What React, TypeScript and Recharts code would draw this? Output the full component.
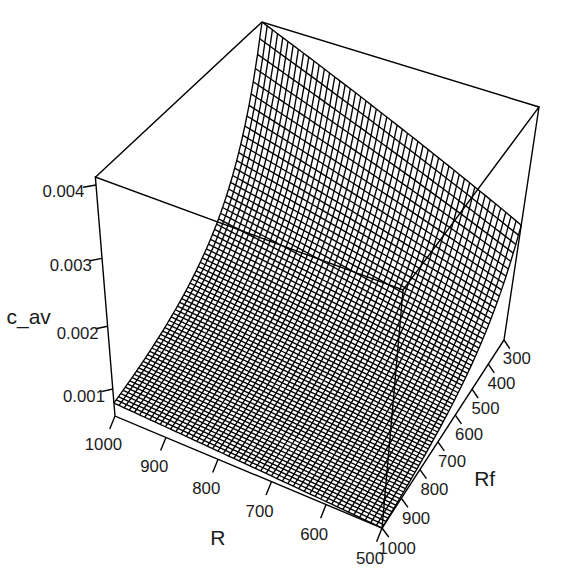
import { ScatterChart, Scatter, XAxis, YAxis } from "recharts"

const rFine = [500, 510, 520, 530, 540, 550, 560, 570, 580, 590, 600, 610, 620, 630, 640, 650, 660, 670, 680, 690, 700, 710, 720, 730, 740, 750, 760, 770, 780, 790, 800, 810, 820, 830, 840, 850, 860, 870, 880, 890, 900, 910, 920, 930, 940, 950, 960, 970, 980, 990, 1000]
const rCoarse = [500, 600, 700, 800, 900, 1000]
const rfMain = [300, 320, 340, 360, 380, 400, 420, 440, 460, 480, 500, 520, 540, 560, 580, 600, 620, 640, 660, 680, 700, 720, 740, 760, 780, 800, 820, 840, 860, 880, 900, 920, 940, 960, 980, 1000]
const rfBetween = [310, 330, 350, 370, 390, 410, 430, 450, 470, 490, 510, 530, 550, 570, 590, 610, 630, 650, 670, 690, 710, 730, 750, 770, 790, 810, 830, 850, 870, 890, 910, 930, 950, 970, 990]

// c_av x 1e6, hand estimates fitted by eye to the edges and ticks of the picture
// one row per rfMain value, one column per rFine value
const cAvMain = [
  [2413,2450,2487,2524,2560,2596,2632,2668,2704,2740,2775,2810,2845,2880,2915,2949,2984,3018,3053,3088,3122,3156,3190,3224,3257,3291,3324,3358,3391,3425,3458,3491,3524,3557,3589,3622,3654,3687,3719,3752,3784,3816,3848,3880,3912,3944,3975,4007,4039,4071,4102],
  [2190,2223,2256,2289,2321,2353,2385,2418,2450,2483,2515,2546,2578,2609,2640,2671,2702,2734,2765,2796,2827,2857,2888,2918,2948,2978,3008,3038,3068,3098,3128,3157,3186,3216,3245,3274,3303,3332,3362,3391,3420,3448,3477,3505,3533,3562,3590,3619,3647,3676,3704],
  [2001,2031,2060,2090,2119,2148,2177,2207,2236,2266,2295,2323,2351,2380,2408,2436,2464,2493,2521,2549,2577,2604,2632,2659,2686,2713,2740,2768,2795,2822,2849,2875,2902,2928,2954,2981,3007,3033,3059,3086,3112,3138,3163,3189,3214,3240,3266,3291,3317,3342,3368],
  [1841,1868,1895,1921,1948,1975,2001,2028,2055,2081,2108,2134,2159,2185,2210,2236,2262,2287,2313,2338,2364,2389,2413,2438,2463,2488,2512,2537,2562,2586,2611,2635,2659,2683,2707,2731,2754,2778,2802,2826,2850,2873,2896,2920,2943,2966,2989,3012,3036,3059,3082],
  [1702,1727,1751,1776,1800,1825,1849,1874,1898,1923,1947,1970,1994,2017,2041,2064,2087,2111,2134,2158,2181,2204,2226,2249,2271,2294,2316,2339,2361,2384,2406,2428,2450,2471,2493,2515,2537,2559,2580,2602,2624,2645,2666,2688,2709,2730,2751,2772,2794,2815,2836],
  [1583,1606,1628,1651,1673,1696,1718,1741,1763,1786,1808,1830,1851,1873,1894,1916,1937,1959,1980,2002,2023,2044,2064,2085,2105,2126,2147,2167,2188,2208,2229,2249,2269,2289,2309,2329,2349,2369,2389,2409,2429,2448,2468,2487,2507,2526,2545,2565,2584,2604,2623],
  [1478,1499,1520,1540,1561,1582,1603,1624,1644,1665,1686,1706,1726,1745,1765,1785,1805,1825,1844,1864,1884,1903,1922,1941,1960,1980,1999,2018,2037,2056,2075,2093,2112,2130,2148,2167,2185,2203,2221,2240,2258,2276,2294,2312,2329,2347,2365,2383,2401,2419,2437],
  [1386,1405,1425,1444,1463,1483,1502,1521,1540,1560,1579,1597,1616,1634,1652,1671,1689,1707,1725,1744,1762,1780,1797,1815,1832,1850,1868,1885,1903,1920,1938,1955,1972,1989,2006,2023,2040,2057,2074,2091,2108,2125,2141,2158,2174,2191,2207,2224,2240,2257,2273],
  [1305,1323,1341,1359,1377,1395,1412,1430,1448,1466,1484,1501,1518,1535,1552,1569,1586,1603,1620,1637,1654,1670,1687,1703,1720,1736,1752,1769,1785,1802,1818,1834,1849,1865,1881,1897,1912,1928,1944,1959,1975,1990,2006,2021,2036,2052,2067,2082,2097,2113,2128],
  [1232,1249,1265,1282,1299,1316,1332,1349,1366,1382,1399,1415,1431,1447,1463,1479,1494,1510,1526,1542,1558,1573,1588,1604,1619,1634,1649,1664,1680,1695,1710,1725,1739,1754,1769,1784,1798,1813,1828,1842,1857,1871,1885,1900,1914,1928,1942,1956,1971,1985,1999],
  [1167,1183,1198,1214,1230,1246,1261,1277,1293,1308,1324,1339,1354,1369,1384,1399,1413,1428,1443,1458,1473,1487,1501,1516,1530,1544,1558,1572,1587,1601,1615,1629,1642,1656,1670,1684,1697,1711,1725,1738,1752,1765,1778,1792,1805,1818,1831,1844,1858,1871,1884],
  [1108,1123,1137,1152,1167,1182,1196,1211,1226,1240,1255,1269,1283,1297,1311,1325,1339,1353,1367,1381,1395,1408,1422,1435,1448,1462,1475,1488,1501,1515,1528,1541,1554,1566,1579,1592,1605,1618,1630,1643,1656,1668,1681,1693,1706,1718,1730,1743,1755,1768,1780],
  [1057,1071,1085,1098,1112,1126,1140,1154,1167,1181,1195,1208,1221,1235,1248,1261,1274,1287,1301,1314,1327,1340,1352,1365,1377,1390,1402,1415,1427,1440,1452,1464,1476,1488,1500,1512,1524,1536,1548,1560,1572,1584,1595,1607,1618,1630,1642,1653,1665,1676,1688],
  [1009,1022,1035,1048,1061,1074,1087,1100,1113,1126,1139,1151,1164,1176,1189,1201,1213,1226,1238,1251,1263,1275,1287,1298,1310,1322,1334,1346,1357,1369,1381,1392,1404,1415,1426,1438,1449,1460,1471,1483,1494,1505,1516,1527,1537,1548,1559,1570,1581,1592,1603],
  [966,978,991,1003,1016,1028,1040,1053,1065,1078,1090,1102,1113,1125,1137,1149,1160,1172,1184,1195,1207,1218,1229,1240,1251,1263,1274,1285,1296,1307,1318,1329,1339,1350,1360,1371,1382,1392,1403,1413,1424,1434,1445,1455,1465,1476,1486,1496,1506,1517,1527],
  [927,939,951,962,974,986,998,1010,1021,1033,1045,1056,1067,1078,1089,1100,1111,1122,1133,1144,1155,1166,1176,1187,1197,1208,1218,1229,1239,1250,1260,1270,1280,1290,1300,1310,1320,1330,1340,1350,1360,1370,1379,1389,1399,1409,1418,1428,1438,1447,1457],
  [891,902,913,924,935,947,958,969,980,991,1002,1012,1023,1033,1044,1054,1064,1075,1085,1096,1106,1116,1126,1136,1146,1156,1166,1176,1186,1196,1206,1216,1225,1235,1244,1254,1263,1273,1282,1292,1301,1310,1319,1328,1337,1347,1356,1365,1374,1383,1392],
  [858,869,879,890,900,911,922,932,943,953,964,974,984,994,1004,1014,1023,1033,1043,1053,1063,1072,1082,1091,1101,1110,1119,1129,1138,1148,1157,1166,1175,1184,1193,1203,1212,1221,1230,1239,1248,1257,1265,1274,1282,1291,1300,1308,1317,1325,1334],
  [828,838,848,858,868,879,889,899,909,919,929,938,948,957,967,976,985,995,1004,1014,1023,1032,1041,1050,1059,1068,1077,1086,1095,1104,1113,1122,1130,1139,1147,1156,1164,1173,1181,1190,1198,1206,1214,1223,1231,1239,1247,1255,1264,1272,1280],
  [800,810,819,829,838,848,858,867,877,886,896,905,914,923,932,941,950,959,968,977,986,995,1003,1012,1020,1029,1037,1046,1054,1063,1071,1079,1087,1095,1103,1112,1120,1128,1136,1144,1152,1160,1168,1175,1183,1191,1199,1207,1214,1222,1230],
  [774,783,792,802,811,820,829,838,848,857,866,875,883,892,900,909,918,926,935,943,952,960,968,976,984,993,1001,1009,1017,1025,1033,1041,1048,1056,1064,1072,1079,1087,1095,1102,1110,1117,1125,1132,1140,1147,1154,1162,1169,1177,1184],
  [751,760,768,777,786,795,803,812,821,829,838,846,854,863,871,879,887,895,904,912,920,928,935,943,951,959,966,974,982,989,997,1004,1012,1019,1027,1034,1041,1049,1056,1064,1071,1078,1085,1092,1099,1106,1113,1120,1127,1134,1141],
  [729,737,746,754,763,771,779,788,796,805,813,821,829,836,844,852,860,868,875,883,891,898,906,913,921,928,935,943,950,958,965,972,979,986,993,1000,1007,1014,1021,1028,1035,1042,1048,1055,1062,1069,1075,1082,1089,1095,1102],
  [709,717,725,733,741,749,757,765,773,781,789,796,804,811,819,826,833,841,848,856,863,870,877,884,891,899,906,913,920,927,934,941,947,954,961,968,974,981,988,994,1001,1007,1014,1020,1027,1033,1039,1046,1052,1059,1065],
  [689,697,704,712,720,728,735,743,751,758,766,773,780,788,795,802,809,816,824,831,838,845,851,858,865,872,878,885,892,898,905,911,918,924,931,937,943,950,956,963,969,975,981,987,993,1000,1006,1012,1018,1024,1030],
  [672,679,687,694,701,709,716,723,730,738,745,752,759,766,773,780,786,793,800,807,814,821,827,834,840,847,853,860,866,873,879,885,891,897,903,910,916,922,928,934,940,946,952,957,963,969,975,981,986,992,998],
  [655,662,669,676,683,691,698,705,712,719,726,733,739,746,752,759,766,772,779,785,792,798,804,811,817,823,829,835,842,848,854,860,866,871,877,883,889,895,900,906,912,918,923,929,934,940,946,951,957,962,968],
  [640,647,654,660,667,674,681,688,694,701,708,714,721,727,733,740,746,752,758,765,771,777,783,789,795,801,807,813,819,825,831,837,842,848,853,859,865,870,876,881,887,892,898,903,908,914,919,924,929,935,940],
  [625,632,638,645,651,658,665,671,678,684,691,697,703,709,715,721,727,733,739,745,751,757,762,768,774,780,785,791,797,802,808,813,819,824,830,835,840,846,851,857,862,867,872,877,882,888,893,898,903,908,913],
  [612,618,625,631,637,644,650,656,662,669,675,681,687,692,698,704,710,716,721,727,733,739,744,750,755,761,766,772,777,783,788,793,798,803,808,814,819,824,829,834,839,844,849,854,859,864,868,873,878,883,888],
  [599,605,611,617,623,630,636,642,648,654,660,666,671,677,682,688,694,699,705,710,716,721,727,732,737,743,748,753,758,764,769,774,779,784,789,794,798,803,808,813,818,823,827,832,837,842,846,851,856,860,865],
  [588,594,600,605,611,617,623,629,634,640,646,651,657,662,668,673,678,684,689,695,700,705,710,715,720,726,731,736,741,746,751,756,760,765,770,775,779,784,789,793,798,803,807,812,816,821,825,830,834,839,843],
  [576,582,587,593,599,605,610,616,622,627,633,638,643,649,654,659,664,669,675,680,685,690,695,699,704,709,714,719,723,728,733,738,742,747,751,756,761,765,770,774,779,783,788,792,796,801,805,809,813,818,822],
  [566,571,577,582,588,593,598,604,609,615,620,625,630,635,640,645,650,655,660,665,670,675,679,684,689,694,698,703,708,712,717,721,726,730,735,739,743,748,752,757,761,765,769,773,777,782,786,790,794,798,802],
  [556,561,567,572,577,583,588,593,598,604,609,614,619,623,628,633,638,643,647,652,657,662,666,671,675,680,684,689,693,698,702,706,710,715,719,723,727,731,736,740,744,748,752,756,760,764,768,772,776,780,784],
  [547,552,557,562,567,573,578,583,588,593,598,603,607,612,616,621,626,630,635,639,644,648,653,657,661,666,670,674,678,683,687,691,695,699,703,708,712,716,720,724,728,732,736,739,743,747,751,755,758,762,766],
]

// the Rf lines in between are almost straight, so six values per line are enough
const cAvBetween = [
  [2297, 2640, 2969, 3287, 3596, 3896],
  [2092, 2401, 2698, 2984, 3261, 3531],
  [1918, 2198, 2467, 2726, 2977, 3221],
  [1769, 2025, 2270, 2505, 2734, 2955],
  [1641, 1875, 2100, 2315, 2524, 2727],
  [1529, 1745, 1952, 2150, 2341, 2527],
  [1431, 1631, 1821, 2005, 2181, 2353],
  [1344, 1530, 1707, 1876, 2040, 2199],
  [1268, 1440, 1605, 1763, 1915, 2062],
  [1199, 1361, 1514, 1661, 1803, 1940],
  [1137, 1289, 1433, 1571, 1703, 1831],
  [1082, 1224, 1360, 1489, 1613, 1733],
  [1033, 1166, 1294, 1416, 1532, 1645],
  [987, 1114, 1234, 1349, 1458, 1564],
  [946, 1067, 1181, 1289, 1391, 1491],
  [909, 1023, 1130, 1233, 1330, 1424],
  [874, 983, 1084, 1181, 1274, 1363],
  [843, 946, 1043, 1135, 1223, 1307],
  [814, 912, 1004, 1092, 1175, 1255],
  [787, 881, 969, 1052, 1131, 1207],
  [762, 852, 936, 1015, 1090, 1162],
  [740, 825, 905, 981, 1053, 1121],
  [719, 801, 877, 949, 1018, 1083],
  [699, 777, 850, 919, 985, 1047],
  [680, 755, 826, 892, 954, 1014],
  [663, 735, 803, 866, 926, 983],
  [647, 717, 781, 842, 899, 954],
  [632, 699, 761, 819, 874, 926],
  [618, 683, 742, 798, 850, 900],
  [605, 667, 724, 778, 828, 876],
  [593, 653, 708, 760, 808, 854],
  [582, 639, 692, 742, 788, 832],
  [571, 626, 677, 725, 770, 812],
  [561, 614, 663, 709, 752, 793],
  [551, 603, 650, 694, 736, 775],
]

const rTicks = [500, 600, 700, 800, 900, 1000]
const rfTicks = [300, 400, 500, 600, 700, 800, 900, 1000]
const zTicks = [1000, 2000, 3000, 4000]

const W = 577
const H = 587
const Z_MIN = 547
const Z_MAX = 4102

// perspective camera of the persp() view
function project(r: number, rf: number, z: number) {
  const u = (r - 500) / 500
  const v = (rf - 300) / 700
  const t = (z - Z_MIN) / (Z_MAX - Z_MIN)
  const w = 1 + 0.0537 * u - 0.1137 * v - 0.1205 * t
  return {
    x: (504 - 230.5 * u - 165.4 * v - 29.95 * t) / w + u * (1 - v) * t,
    y: (340 - 76.93 * u + 128 * v - 245.9 * t) / w + 3.6 * u * (1 - v) * t,
  }
}

const p = project
const DZ = 0.03 * (Z_MAX - Z_MIN)

const mesh = [
  ...rfMain.map((rf, i) => rFine.map((r, j) => p(r, rf, cAvMain[i][j]))),
  ...rfBetween.map((rf, i) => rCoarse.map((r, j) => p(r, rf, cAvBetween[i][j]))),
  ...rFine.map((r, j) => rfMain.map((rf, i) => p(r, rf, cAvMain[i][j]))),
]

const box = [
  [p(1000, 1000, Z_MAX), p(1000, 300, Z_MAX), p(500, 300, Z_MAX), p(500, 1000, Z_MAX), p(1000, 1000, Z_MAX), p(1000, 1000, Z_MIN), p(500, 1000, Z_MIN), p(500, 300, Z_MIN), p(500, 300, Z_MAX)],
  [p(500, 1000, Z_MAX), p(500, 1000, Z_MIN)],
]

const ticks = [
  ...rTicks.map((r) => [p(r, 1000, Z_MIN), p(r, 1025, Z_MIN - DZ)]),
  ...rfTicks.map((rf) => [p(500, rf, Z_MIN), p(487, rf, Z_MIN - DZ)]),
  ...zTicks.map((z) => [p(1000, 1000, z), p(1013, 1020, z)]),
]

const labels = [
  ...rTicks.map((r) => ({ ...p(r, 1055, Z_MIN - 2.2 * DZ), label: String(r), size: 16.8 })),
  ...rfTicks.map((rf) => ({ ...p(471, rf, Z_MIN - 2.2 * DZ), label: String(rf), size: 16.8 })),
  ...zTicks.map((z) => ({ ...p(1032, 1052, z), label: (z / 1e6).toFixed(3), size: 16.8 })),
  { ...p(750, 1125, Z_MIN - 5 * DZ), label: "R", size: 21 },
  { ...p(421, 650, Z_MIN - 5.5 * DZ), label: "Rf", size: 21 },
  { ...p(1080, 1130, 2400), label: "c_av", size: 21 },
]

const noDot = () => <g />
const textDot = (props: any) => (
  <text x={props.cx} y={props.cy} textAnchor="middle" dominantBaseline="central" fontFamily="Liberation Sans" fontSize={props.payload.size} fill="#1a1a1a">
    {props.payload.label}
  </text>
)

export default function App() {
  return (
    <div style={{ position: "absolute", left: 0, top: 0 }}>
      <ScatterChart width={W} height={H} margin={{ top: 0, right: 0, bottom: 0, left: 0 }}>
        <XAxis type="number" dataKey="x" domain={[0, W]} hide />
        <YAxis type="number" dataKey="y" domain={[0, H]} reversed hide />
        {mesh.map((pts, i) => (
          <Scatter key={i} data={pts} line={{ stroke: "#000", strokeWidth: 1.35 }} shape={noDot} isAnimationActive={false} />
        ))}
        {[...box, ...ticks].map((pts, i) => (
          <Scatter key={"b" + i} data={pts} line={{ stroke: "#000", strokeWidth: 1.4 }} shape={noDot} isAnimationActive={false} />
        ))}
        <Scatter data={labels} shape={textDot} isAnimationActive={false} />
      </ScatterChart>
    </div>
  )
}
